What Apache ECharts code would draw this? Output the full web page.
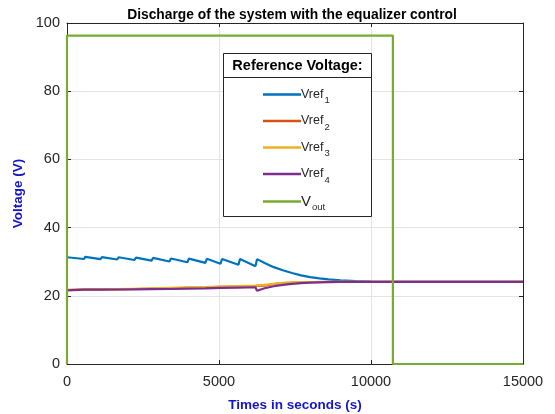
<!DOCTYPE html>
<html><head><meta charset="utf-8">
<script src="https://cdn.jsdelivr.net/npm/echarts@6/dist/echarts.min.js"></script>
<style>html,body{margin:0;padding:0;background:#fff}#c{width:555px;height:414px}</style>
</head><body><div id="c"></div>
<script>
const titleText = 'Discharge of the system with the equalizer control';
const legendTitle = 'Reference Voltage:';
const xTicks = [0, 5000, 10000, 15000];
const yTicks = [0, 20, 40, 60, 80, 100];
const seriesNames = ['Vref1', 'Vref2', 'Vref3', 'Vref4', 'Vout'];

const vref1 = [[0,31.3],[560,30.8],[600,31.4],[1100,30.75],[1150,31.35],[1650,30.65],[1700,31.3],[2220,30.5],[2270,31.2],[2780,30.3],[2830,31.1],[3370,30.05],[3420,30.95],[3960,29.85],[4010,30.9],[4550,29.65],[4600,30.85],[5050,29.4],[5100,30.8],[5640,29.1],[5690,30.8],[6200,28.7],[6250,30.75],[6500,29.6],[6800,28.4],[7100,27.5],[7400,26.7],[7700,26.0],[8000,25.5],[8300,25.1],[8600,24.8],[9000,24.5],[9500,24.3],[10000,24.2],[11000,24.1],[15000,24.1]];
const vref2 = [[0,21.7],[560,21.85],[600,21.65],[1100,21.85],[1150,21.7],[1650,21.9],[1700,21.75],[2220,22.0],[2270,21.8],[2780,22.1],[2830,21.9],[3370,22.2],[3420,22.0],[3960,22.35],[4010,22.1],[4550,22.45],[4600,22.2],[5050,22.6],[5100,22.3],[5640,22.75],[5690,22.4],[6200,22.9],[6250,22.4],[6500,23.0],[6800,23.4],[7100,23.7],[7500,23.9],[8000,24.0],[9000,24.1],[15000,24.1]];
const vref3 = [[0,21.75],[560,21.9],[600,21.7],[1100,21.9],[1150,21.75],[1650,21.95],[1700,21.8],[2220,22.05],[2270,21.85],[2780,22.15],[2830,21.95],[3370,22.3],[3420,22.05],[3960,22.45],[4010,22.15],[4550,22.55],[4600,22.25],[5050,22.7],[5100,22.4],[5640,22.85],[5690,22.5],[6200,23.0],[6250,22.6],[6500,23.2],[6800,23.5],[7100,23.8],[7500,23.95],[8000,24.05],[9000,24.1],[15000,24.1]];
const vref4 = [[0,21.6],[560,21.8],[600,21.45],[1100,21.8],[1150,21.5],[1650,21.85],[1700,21.55],[2220,21.9],[2270,21.6],[2780,21.95],[2830,21.65],[3370,22.0],[3420,21.7],[3960,22.1],[4010,21.8],[4550,22.2],[4600,21.85],[5050,22.3],[5100,21.95],[5640,22.4],[5690,22.0],[6200,22.5],[6250,21.5],[6500,22.2],[6800,22.8],[7100,23.2],[7400,23.5],[7700,23.7],[8000,23.85],[8500,24.0],[9000,24.05],[10000,24.1],[15000,24.1]];
const vout = [[0,0],[0,96.3],[10720,96.3],[10720,0],[15000,0]];

const colors = ['#0072BD', '#D95319', '#EDB120', '#7E2F8E', '#77AC30'];
const font = 'Liberation Sans, Arial, sans-serif';
const chart = echarts.init(document.getElementById('c'));
const dataList = [vref1, vref2, vref3, vref4, vout];
const subs = {Vref1:['a','Vref','1'],Vref2:['a','Vref','2'],Vref3:['a','Vref','3'],Vref4:['a','Vref','4'],Vout:['b','V','out']};

const tickStyle = {show: true, inside: true, length: 4, lineStyle: {color: '#262626', width: 1}};
const lineAx = {show: true, onZero: false, lineStyle: {color: '#262626', width: 1}};

chart.setOption({
  animation: false,
  color: colors,
  title: {text: titleText, left: 287, textAlign: 'center', top: 3,
    textStyle: {fontFamily: font, fontSize: 13.8, fontWeight: 'bold', color: '#000'}},
  grid: {left: 67, right: 32, top: 23, bottom: 50, containLabel: false, outerBoundsMode: 'none'},
  xAxis: [{
    type: 'value', min: 0, max: 15000, interval: 5000,
    name: 'Times in seconds (s)', nameLocation: 'middle', nameGap: 34,
    nameTextStyle: {fontFamily: font, fontSize: 13.5, fontWeight: 'bold', color: '#1515c8'},
    axisLine: lineAx, axisTick: tickStyle,
    axisLabel: {fontFamily: font, fontSize: 14.5, color: '#262626', margin: 10, formatter: v => String(v)},
    splitLine: {show: true, lineStyle: {color: '#e3e3e3', width: 1}}
  }, {
    type: 'value', position: 'top', min: 0, max: 15000, interval: 5000,
    axisLine: lineAx, axisTick: tickStyle,
    axisLabel: {show: false}, splitLine: {show: false}
  }],
  yAxis: [{
    type: 'value', min: 0, max: 100, interval: 20,
    name: 'Voltage (V)', nameLocation: 'middle', nameGap: 42,
    nameTextStyle: {fontFamily: font, fontSize: 13.5, fontWeight: 'bold', color: '#1515c8'},
    axisLine: lineAx, axisTick: tickStyle,
    axisLabel: {fontFamily: font, fontSize: 14.5, color: '#262626', margin: 7},
    splitLine: {show: true, lineStyle: {color: '#e3e3e3', width: 1}}
  }, {
    type: 'value', position: 'right', min: 0, max: 100, interval: 20,
    axisLine: lineAx, axisTick: tickStyle,
    axisLabel: {show: false}, splitLine: {show: false}
  }],
  graphic: [
    {type: 'rect', z: 50, shape: {x: 223.5, y: 53.5, width: 148, height: 163},
      style: {fill: '#fff', stroke: '#262626', lineWidth: 1}},
    {type: 'line', z: 51, shape: {x1: 223.5, y1: 77.5, x2: 371.5, y2: 77.5},
      style: {stroke: '#262626', lineWidth: 1}},
    {type: 'text', z: 51, x: 297.5, y: 66,
      style: {text: legendTitle, font: 'bold 14.5px ' + font, fill: '#000',
        textAlign: 'center', textVerticalAlign: 'middle'}}
  ],
  legend: {
    z: 60, orient: 'vertical', left: 258, top: 83, itemGap: 9,
    itemWidth: 38, itemHeight: 2.5, icon: 'rect',
    data: seriesNames,
    formatter: n => '{' + subs[n][0] + '|' + subs[n][1] + '}{s|' + subs[n][2] + '}',
    textStyle: {fontFamily: font, fontSize: 12.5, color: '#262626', padding: [0,0,0,-5],
      rich: {
        a: {fontFamily: font, fontSize: 12.5, color: '#262626'},
        b: {fontFamily: font, fontSize: 15, color: '#262626'},
        s: {fontFamily: font, fontSize: 9.5, color: '#262626', padding: [12, 0, 0, 1]}
      }}
  },
  series: dataList.map((d, i) => ({
    name: seriesNames[i], type: 'line', data: d, showSymbol: false, symbol: 'none',
    lineStyle: {width: 2.2, color: colors[i]}, z: 2 + i
  }))
});
</script></body></html>
